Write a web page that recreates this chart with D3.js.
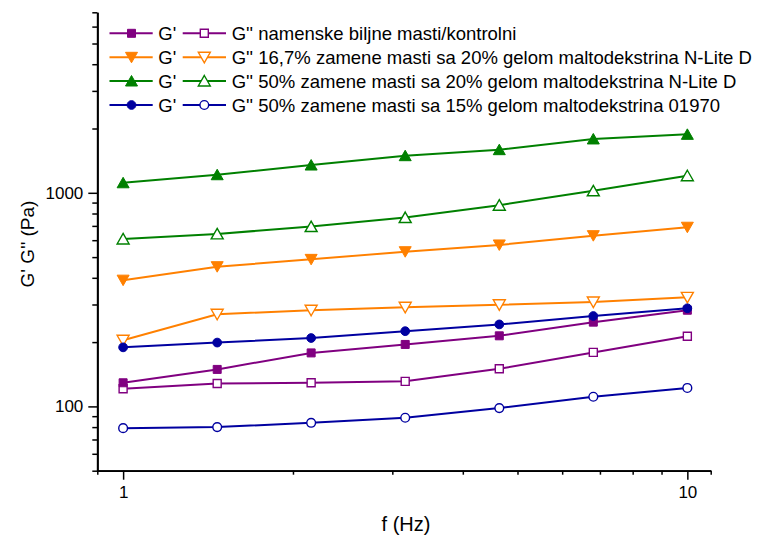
<!DOCTYPE html>
<html>
<head>
<meta charset="utf-8">
<script src="https://cdnjs.cloudflare.com/ajax/libs/d3/7.8.5/d3.min.js"></script>
<style>
  html, body { margin: 0; padding: 0; background: #fff; }
  svg { display: block; font-family: "Liberation Sans", Arial, sans-serif; }
</style>
</head>
<body>
<svg id="chart" width="779" height="537"></svg>
<script>
// Frequencies (Hz)
const freq = [1, 1.468, 2.154, 3.162, 4.642, 6.813, 10];

// Series values (Pa)
const controlGp  = [129, 149, 178, 195, 214, 248, 282];
const controlGpp = [121, 128, 129, 131, 150, 179, 213];
const nlite167Gp  = [390, 451, 488, 530, 570, 630, 690];
const nlite167Gpp = [204, 270, 282, 291, 299, 308, 324];
const nlite50Gp  = [1114, 1215, 1349, 1492, 1592, 1787, 1878];
const nlite50Gpp = [608, 642, 695, 766, 875, 1022, 1202];
const m01970Gp  = [189, 199, 209, 225, 242, 265, 288];
const m01970Gpp = [79.1, 80, 83.8, 88.5, 98.2, 111, 122];

// Legend labels
const legendLabels = [
  "namenske biljne masti/kontrolni",
  "16,7% zamene masti sa 20% gelom maltodekstrina N-Lite D",
  "50% zamene masti sa 20% gelom maltodekstrina N-Lite D",
  "50% zamene masti sa 15% gelom maltodekstrina 01970"
];
const colors = ["#800080", "#FF8000", "#008000", "#0000A0"];
const shapes = ["square", "tridown", "triup", "circle"];

// Tick values
const xMajorTicks = [1, 10];
const xMinorTicks = [0.9, 2, 3, 4, 5, 6, 7, 8, 9, 11];
const yMajorTicks = [100, 1000];
const yMinorTicks = [50, 60, 70, 80, 90, 200, 300, 400, 500, 600, 700, 800, 900, 2000, 3000, 4000, 5000, 6000, 7000];

const series = [
  { gp: controlGp, gpp: controlGpp },
  { gp: nlite167Gp, gpp: nlite167Gpp },
  { gp: nlite50Gp, gpp: nlite50Gpp },
  { gp: m01970Gp, gpp: m01970Gpp }
];

const svg = d3.select("#chart");
const L = 97.3, R = 710.7, T = 12.3, B = 470.7;
const x = d3.scaleLog().domain([0.9, 11]).range([L, R]);
const y = d3.scaleLog().domain([50, 7000]).range([B, T]);

function markerPath(shape) {
  if (shape === "square") return "M-4,-4H4V4H-4Z";
  if (shape === "circle") return d3.symbol(d3.symbolCircle, 60)();
  if (shape === "triup") return "M0,-5.5L6,5L-6,5Z";
  if (shape === "tridown") return "M0,5.5L6,-5L-6,-5Z";
}

// Data lines & markers
const plot = svg.append("g");
series.forEach((s, i) => {
  const c = colors[i];
  [["gpp", false], ["gp", true]].forEach(([key, filled]) => {
    const vals = s[key];
    const pts = freq.map((f, j) => [f, vals[j]]);
    plot.append("path")
      .attr("d", d3.line().x(d => x(d[0])).y(d => y(d[1]))(pts))
      .attr("fill", "none").attr("stroke", c).attr("stroke-width", 2);
    plot.selectAll(null).data(pts).enter().append("path")
      .attr("transform", d => `translate(${x(d[0])},${y(d[1])})`)
      .attr("d", markerPath(shapes[i]))
      .attr("fill", filled ? c : "#fff")
      .attr("stroke", c).attr("stroke-width", filled ? 1 : 1.4);
  });
});

// Axes
const fmt = d => d3.format("d")(d);
svg.append("g").attr("transform", `translate(0,${B})`)
  .call(d3.axisBottom(x).tickValues(xMajorTicks).tickFormat(fmt).tickSize(9).tickSizeOuter(0).tickPadding(6));
svg.append("g").attr("transform", `translate(0,${B})`)
  .call(d3.axisBottom(x).tickValues(xMinorTicks).tickFormat("").tickSize(4).tickSizeOuter(0));
svg.append("g").attr("transform", `translate(${L},0)`)
  .call(d3.axisLeft(y).tickValues(yMajorTicks).tickFormat(fmt).tickSize(9).tickSizeOuter(0).tickPadding(5));
svg.append("g").attr("transform", `translate(${L},0)`)
  .call(d3.axisLeft(y).tickValues(yMinorTicks).tickFormat("").tickSize(5).tickSizeOuter(0));
svg.selectAll(".domain").attr("stroke", "#000").attr("stroke-width", 1.8);
svg.selectAll(".tick line").attr("stroke", "#000").attr("stroke-width", 1.5);
svg.selectAll(".tick text").attr("font-size", 17).attr("fill", "#000")
  .attr("font-family", "'Liberation Sans', Arial, sans-serif");

// Axis titles
svg.append("text").attr("x", 406).attr("y", 531)
  .attr("text-anchor", "middle").attr("font-size", 20).text("f (Hz)");
svg.append("text").attr("transform", "translate(34,244) rotate(-90)")
  .attr("text-anchor", "middle").attr("font-size", 19).text("G' G'' (Pa)");

// Legend
const leg = svg.append("g");
const rowY = [33.3, 57.3, 81, 105];
legendLabels.forEach((lab, i) => {
  const c = colors[i], yy = rowY[i];
  const g = leg.append("g").attr("transform", `translate(0,${yy})`);
  [[109.5, 152.7, 131.5, true, 158.3, "G'"], [182.7, 226, 204.3, false, 231.7, "G'' " + lab]]
    .forEach(([x1, x2, xm, filled, tx, txt]) => {
      g.append("line").attr("x1", x1).attr("x2", x2).attr("stroke", c).attr("stroke-width", 2);
      g.append("path").attr("transform", `translate(${xm},0)`).attr("d", markerPath(shapes[i]))
        .attr("fill", filled ? c : "#fff").attr("stroke", c).attr("stroke-width", filled ? 1 : 1.4);
      g.append("text").attr("x", tx).attr("y", 6.6).attr("font-size", 18.5).attr("fill", "#000").text(txt);
    });
});
</script>
</body>
</html>
